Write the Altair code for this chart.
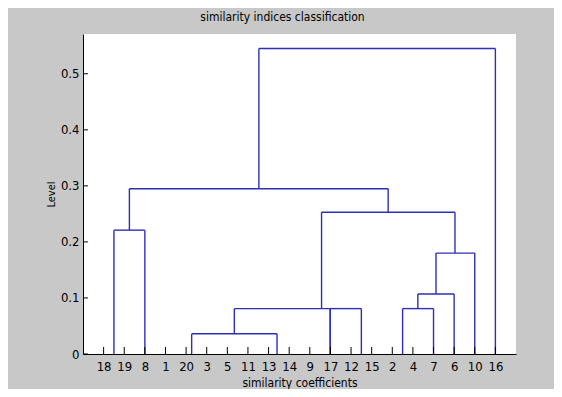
import altair as alt
import pandas as pd

# leaf labels in display order (positions 1..20)
leaf_labels = ["18", "19", "8", "1", "20", "3", "5", "11", "13", "14",
               "9", "17", "12", "15", "2", "4", "7", "6", "10", "16"]
leaf_pos = list(range(1, 21))

# dendrogram links:
# left x, right x, bottom of left leg, bottom of right leg, merge level
link_left = [1.5, 5.27, 7.34, 11.99, 15.5, 16.24, 17.12, 11.57, 2.25, 8.53]
link_right = [3.0, 9.41, 11.99, 13.5, 17.0, 18.0, 19.0, 18.04, 14.8, 20.0]
link_left_base = [0.0, 0.0, 0.036, 0.0, 0.0, 0.081, 0.107, 0.081, 0.221, 0.295]
link_right_base = [0.0, 0.0, 0.0, 0.0, 0.0, 0.0, 0.0, 0.180, 0.253, 0.0]
link_level = [0.221, 0.036, 0.081, 0.081, 0.081, 0.107, 0.180, 0.253, 0.295, 0.545]

y_ticks = [0, 0.1, 0.2, 0.3, 0.4, 0.5]

segs = []
for xl, xr, bl, br, lv in zip(link_left, link_right, link_left_base, link_right_base, link_level):
    segs.append({"x": xl, "x2": xl, "y": bl, "y2": lv})
    segs.append({"x": xl, "x2": xr, "y": lv, "y2": lv})
    segs.append({"x": xr, "x2": xr, "y": br, "y2": lv})
seg_df = pd.DataFrame(segs)

xtick_df = pd.DataFrame({"x": leaf_pos, "y": 0.0, "y2": 0.0125})
ytick_df = pd.DataFrame({"y": y_ticks, "x": 0.0, "x2": 0.24})

FONT = "DejaVu Sans Condensed, Liberation Sans Narrow, Liberation Sans"
label_expr = "[" + ",".join("'%s'" % s for s in leaf_labels) + "][round(datum.value) - 1]"

xscale = alt.Scale(domain=[0, 21], nice=False, zero=False)
yscale = alt.Scale(domain=[0, 0.571], nice=False)

xaxis = alt.Axis(values=leaf_pos, labelExpr=label_expr, ticks=False, grid=False,
                 title="similarity coefficients", labelPadding=6, titlePadding=4,
                 labelFontSize=13, titleFontSize=12, labelFont=FONT, titleFont=FONT,
                 titleFontWeight="normal", labelColor="black", titleColor="black",
                 domainColor="black", labelFlush=False, labelOverlap=False)
yaxis = alt.Axis(values=y_ticks, ticks=False, grid=False,
                 labelExpr="datum.value == 0 ? '0' : format(datum.value, '.1f')",
                 title="Level", labelPadding=4, titlePadding=4,
                 labelFontSize=13, titleFontSize=11, labelFont=FONT, titleFont=FONT,
                 titleFontWeight="normal", labelColor="black", titleColor="black",
                 domainColor="black", labelFlush=False, labelOverlap=False)

lines = alt.Chart(seg_df).mark_rule(color="#2f2fb4", strokeWidth=1.4).encode(
    x=alt.X("x:Q", scale=xscale, axis=xaxis),
    x2="x2:Q",
    y=alt.Y("y:Q", scale=yscale, axis=yaxis),
    y2="y2:Q",
)

xt = alt.Chart(xtick_df).mark_rule(color="black", strokeWidth=1).encode(
    x=alt.X("x:Q", scale=xscale, axis=xaxis), y=alt.Y("y:Q", scale=yscale, axis=yaxis), y2="y2:Q")
yt = alt.Chart(ytick_df).mark_rule(color="black", strokeWidth=1).encode(
    y=alt.Y("y:Q", scale=yscale, axis=yaxis), x=alt.X("x:Q", scale=xscale, axis=xaxis), x2="x2:Q")

chart = alt.layer(lines, xt, yt).properties(
    width=433, height=320,
    title=alt.TitleParams("similarity indices classification", fontSize=12, font=FONT,
                          fontWeight="normal", color="black", anchor="middle", dx=-17, offset=10),
    autosize=alt.AutoSizeParams(type="none"),
    padding={"left": 75, "top": 26, "right": 38, "bottom": 35},
    background="#c8c8c8",
).configure_view(fill="white", stroke=None).configure_axis(labelOverlap=False)

chart.save("out.html", embed_options={"renderer": "svg", "actions": False})
